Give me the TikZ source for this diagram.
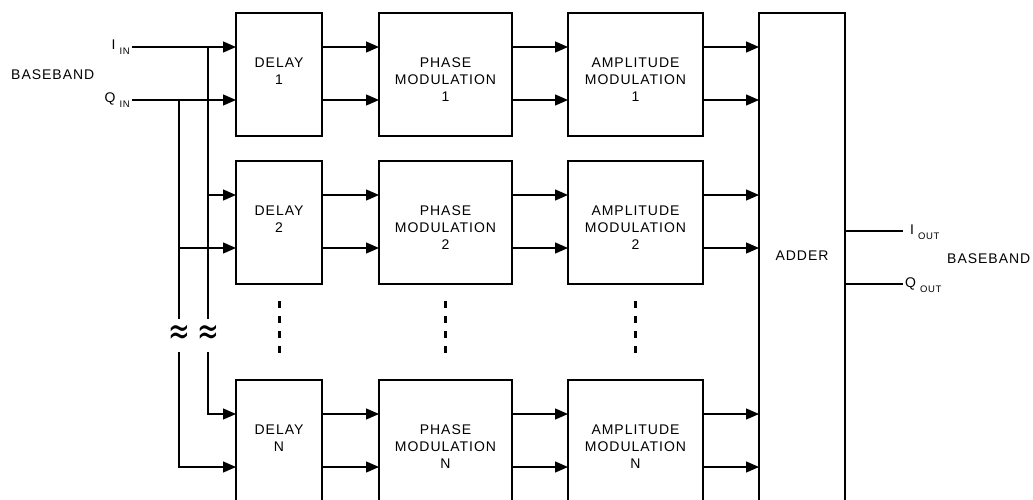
\documentclass[tikz,border=0pt]{standalone}
\usepackage{fontspec}
\setmainfont{Liberation Sans}[LetterSpace=7]
\newfontfamily\symfont{DejaVu Sans}
\usetikzlibrary{arrows.meta}

\begin{document}
\begin{tikzpicture}[x=1pt,y=-1pt,
  wire/.style={line width=1.3pt, line cap=rect},
  feed/.style={line width=1.3pt, -{Triangle[length=13pt,width=11pt]}},
  block/.style={draw, line width=1.4pt, rectangle, inner sep=0pt, outer sep=0pt,
    anchor=north west, minimum height=123pt},
  blabel/.style={anchor=north, inner sep=0pt, align=center,
    font=\fontsize{14}{16.7}\selectfont},
  plain/.style={inner sep=0pt, font=\fontsize{14}{16.7}\selectfont},
  gap/.style={line width=3pt, dash pattern=on 6.5pt off 8.5pt},
  brk/.style={inner sep=0pt, font=\symfont\fontsize{26}{26}\selectfont}
]
\useasboundingbox (0,0) rectangle (1033,500);
\clip (0,0) rectangle (1033,500);

% subscripted signal names
\newcommand{\sig}[2]{#1\hspace{4pt}\raisebox{-5pt}{\fontsize{9.5}{10}\selectfont #2}}

% processing chains: delay, phase modulation, amplitude modulation
\foreach \r/\top in {1/13, 2/161, N/380} {
  \node[block, minimum width=86pt]  (d\r) at (236,\top) {};
  \node[block, minimum width=133pt] (p\r) at (379,\top) {};
  \node[block, minimum width=135pt] (a\r) at (568,\top) {};
  \node[blabel] (dt\r) at ([yshift=-45pt]d\r.north) {DELAY\\\r};
  \node[blabel] (pt\r) at ([yshift=-45pt]p\r.north) {PHASE\\MODULATION\\\r};
  \node[blabel] (at\r) at ([yshift=-45pt]a\r.north) {AMPLITUDE\\MODULATION\\\r};
}

% adder
\node[block, minimum width=86pt, minimum height=510pt] (adder) at (759,13) {};
\node[plain, anchor=base] (addt) at (802,260) {ADDER};

% links between stages and into the adder
\foreach \r in {1,2,N} {
  \foreach \s/\t in {d/p, p/a} {
    \draw[feed] ([yshift=-34pt]\s\r.north east) -- ([yshift=-34pt]\t\r.north west);
    \draw[feed] ([yshift=-87pt]\s\r.north east) -- ([yshift=-87pt]\t\r.north west);
  }
  \coordinate (a\r u) at ([yshift=-34pt]a\r.north east);
  \coordinate (a\r l) at ([yshift=-87pt]a\r.north east);
  \draw[feed] (a\r u) -- (a\r u -| adder.west);
  \draw[feed] (a\r l) -- (a\r l -| adder.west);
  \coordinate (d\r u) at ([yshift=-34pt]d\r.north west);
  \coordinate (d\r l) at ([yshift=-87pt]d\r.north west);
}

% baseband inputs and their distribution buses
\coordinate (iin) at (132,47);
\coordinate (qin) at (132,100);
\coordinate (ibus) at (208,47);
\coordinate (qbus) at (179,100);
\coordinate (ibrk1) at (208,318);
\coordinate (ibrk2) at (208,352);
\coordinate (qbrk1) at (179,318);
\coordinate (qbrk2) at (179,352);

\draw[feed] (iin) -- (d1u);
\draw[feed] (qin) -- (d1l);
\draw[wire] (ibus) -- (ibrk1);
\draw[wire] (qbus) -- (qbrk1);
\draw[feed] (ibus |- d2u) -- (d2u);
\draw[feed] (qbus |- d2l) -- (d2l);
\draw[feed] (ibrk2) |- (dNu);
\draw[feed] (qbrk2) |- (dNl);

% break marks on the buses
\node[brk] (qwave) at (179,335) {\scalebox{1}[1.5]{≈}};
\node[brk] (iwave) at (208,335) {\scalebox{1}[1.5]{≈}};

\node[plain, anchor=base east] (ilab) at (130,50) {\sig{I}{IN}};
\node[plain, anchor=base east] (qlab) at (130,103) {\sig{Q}{IN}};
\node[plain, anchor=base west] (bbin) at (11,80) {BASEBAND};

% baseband outputs
\coordinate (iout) at (902,231);
\coordinate (qout) at (902,284);
\draw[wire] (adder.east |- iout) -- (iout);
\draw[wire] (adder.east |- qout) -- (qout);
\node[plain, anchor=base west] (iolab) at (910,234) {\sig{I}{OUT}};
\node[plain, anchor=base west] (qolab) at (905,287) {\sig{Q}{OUT}};
\node[plain, anchor=base west] (bbout) at (947,263) {BASEBAND};

% continuation marks between the second and last chain
\foreach \n in {d,p,a} {
  \coordinate (\n gt) at ([yshift=-17pt]\n 2.south);
  \coordinate (\n gb) at ([yshift=-71pt]\n 2.south);
  \draw[gap] (\n gt) -- (\n gb);
}
\end{tikzpicture}
\end{document}
